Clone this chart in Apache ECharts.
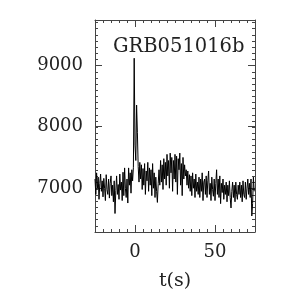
<!DOCTYPE html>
<html><head><meta charset="utf-8">
<script src="https://cdn.jsdelivr.net/npm/echarts@6/dist/echarts.min.js"></script>
<style>html,body{margin:0;padding:0;background:#fff}#c{width:282px;height:300px}</style>
</head><body><div id="c"></div>
<script>
const times = [];
for (let i = 0; i < 200; i++) times.push(-25 + i * 0.5);
const counts = [
7150,6900,7250,7000,7180,6820,7080,7230,6950,7120,
6860,7160,7000,6800,7220,6980,6900,7150,6840,7080,
7200,6880,7050,6780,7120,6590,6960,7200,6900,7060,
6820,7230,6970,7100,6800,7260,6880,7330,7000,6850,
7150,6760,7330,7050,7250,6920,7300,7120,7340,9110,
7700,7450,8350,7900,7350,7100,7420,7150,7380,6980,
7320,7050,7400,6900,7280,7120,7420,6950,7330,7050,
7300,6880,7400,7000,7250,6850,7180,6950,6770,7080,
7300,7050,7450,7100,7380,6980,7480,7150,7420,7050,
7550,7200,7450,7000,7570,7250,7500,6950,7450,7150,
7550,7100,7520,6900,7480,7300,7570,7050,7400,6880,
7500,7150,7380,7200,7300,7050,7280,7000,7220,6950,
7200,6880,7250,7000,7150,6850,7230,6950,7100,6900,
7180,6850,7150,6950,7250,6800,7100,7150,6900,7200,
6850,7120,7280,6900,7080,6800,7180,6980,6870,7150,
6800,7080,7300,6900,7150,6850,7200,6750,7080,6930,
7150,6820,7050,6900,7100,6780,7050,6880,7120,6850,
6680,6950,7100,6850,7050,6780,7100,6900,6820,7050,
6900,7100,6850,7050,6780,7120,6900,6850,7100,6820,
7000,7150,6900,7080,6850,7150,6550,6750,7180,6950];
const xMajor = [0, 50];
const yMajor = [7000, 8000, 9000];
const titleText = 'GRB051016b';
const xName = 't(s)';

const XMIN = -25, XMAX = 75, YMIN = 6290, YMAX = 9730;
const font = 'DejaVu Serif';
const frame = '#444';
const txt = '#222';
function xa(pos, major, show){
  return {type:'value', position:pos, min:XMIN, max:XMAX,
    interval: major ? undefined : 5,
    axisLine:{show:show, onZero:false, lineStyle:{color:frame,width:1}},
    splitLine:{show:false},
    axisTick:{show:true, inside:true, length: major?7:3, lineStyle:{color:frame,width:1},
      customValues: major ? xMajor : undefined},
    axisLabel:{show: major && pos==='bottom', customValues: major ? xMajor : undefined,
      formatter: v => String(v),
      fontFamily:font, fontSize:18, color:txt, margin:11},
    name: (major && pos==='bottom') ? xName : '', nameLocation:'middle', nameGap:40,
    nameTextStyle:{fontFamily:font, fontSize:19, color:txt}};
}
function ya(pos, major, show){
  return {type:'value', position:pos, min:YMIN, max:YMAX,
    interval: major ? undefined : 100,
    axisLine:{show:show, onZero:false, lineStyle:{color:frame,width:1}},
    splitLine:{show:false},
    axisTick:{show:true, inside:true, length: major?7:3, lineStyle:{color:frame,width:1},
      customValues: major ? yMajor : undefined},
    axisLabel:{show: major && pos==='left', customValues: major ? yMajor : undefined,
      formatter: v => String(v),
      fontFamily:font, fontSize:18, color:txt, margin:12}};
}
const chart = echarts.init(document.getElementById('c'), null, {renderer:'canvas'});
chart.setOption({
  animation:false,
  backgroundColor:'#fff',
  title:{text:titleText, left:108, top:32, textStyle:{fontFamily:font, fontSize:19.5, fontWeight:'normal', color:txt}},
  grid:{left:95, right:27, top:20, bottom:68},
  xAxis:[xa('bottom',true,true), xa('bottom',false,false), xa('top',true,true), xa('top',false,false)],
  yAxis:[ya('left',true,true), ya('left',false,false), ya('right',true,true), ya('right',false,false)],
  series:[{type:'line', xAxisIndex:0, yAxisIndex:0, showSymbol:false, symbol:'none',
    data: times.map((t,i)=>[t,counts[i]]),
    lineStyle:{color:'#000', width:1}}]
});
</script></body></html>
